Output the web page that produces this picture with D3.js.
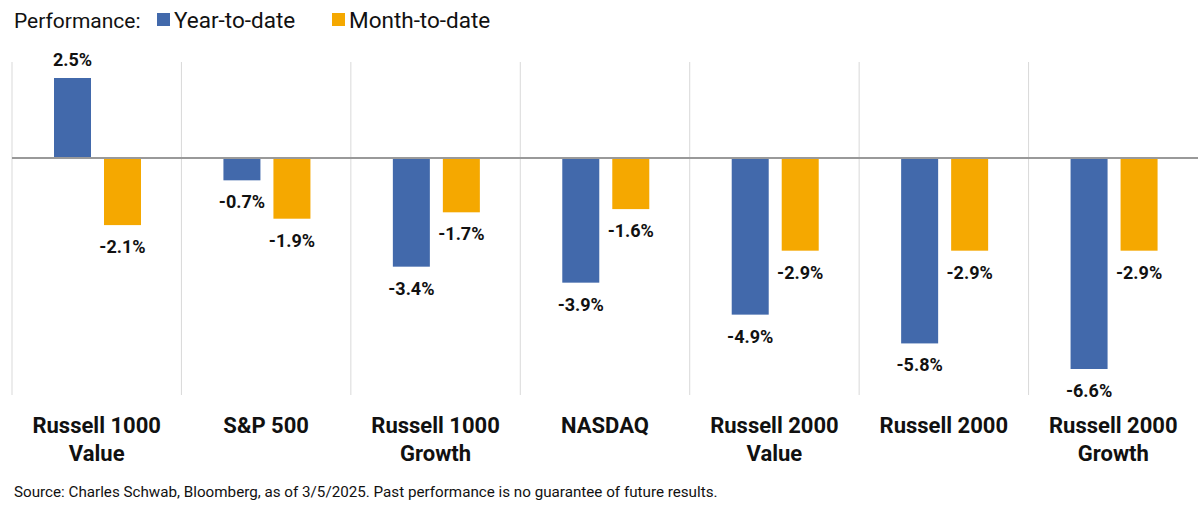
<!DOCTYPE html>
<html lang="en">
  <head>
    <meta charset="utf-8">
    <title>Performance</title>
    <script src="https://cdn.jsdelivr.net/npm/d3@7"></script>
    <style>
      body { margin: 0; background: #fff; }
      text { font-family: Roboto, "Liberation Sans", sans-serif; fill: #111; }
    </style>
  </head>
  <body>
    <script>

       var categories = ["Russell 1000|Value", "S&P 500", "Russell 1000|Growth", "NASDAQ",
                         "Russell 2000|Value", "Russell 2000", "Russell 2000|Growth"]
       var ytd = [2.5, -0.7, -3.4, -3.9, -4.9, -5.8, -6.6]
       var mtd = [-2.1, -1.9, -1.7, -1.6, -2.9, -2.9, -2.9]
       var seriesNames = ["Year-to-date", "Month-to-date"]
       var colors = ["#4269ab", "#f5a800"]

       var svg = d3.select("body").append("svg")
                   .attr("width", 1200)
                   .attr("height", 509);

       var x = d3.scaleBand().domain(d3.range(categories.length)).range([12, 1198]);
       var inner = d3.scaleBand().domain([0, 1]).range([42, 129]).paddingInner(0.26);
       var y = d3.scaleLinear().domain([-6.6, 2.5]).range([369, 78]);

       // legend
       svg.append("text").attr("x", 14).attr("y", 28).style("font-size", "21px").text("Performance:");
       var lx = [157, 332];
       seriesNames.forEach(function(n, i) {
         svg.append("rect").attr("x", lx[i]).attr("y", 13).attr("width", 13).attr("height", 13).style("fill", colors[i]);
         svg.append("text").attr("x", lx[i] + 17).attr("y", 28).style("font-size", "22.5px").text(n);
       });

       // dividers
       var divs = d3.range(categories.length);
       svg.selectAll("line.div").data(divs).enter().append("line")
          .attr("x1", function(d) { return x(d); }).attr("x2", function(d) { return x(d); })
          .attr("y1", 62).attr("y2", 395)
          .style("stroke", "#d9d9d9").style("stroke-width", 1);

       var groups = svg.selectAll("g.cat").data(categories).enter().append("g")
          .attr("transform", function(d, i) { return "translate(" + x(i) + ",0)"; });

       [ytd, mtd].forEach(function(series, s) {
         groups.append("rect")
           .attr("x", inner(s))
           .attr("width", inner.bandwidth())
           .attr("y", function(d, i) { return y(Math.max(0, series[i])); })
           .attr("height", function(d, i) { return Math.abs(y(series[i]) - y(0)); })
           .style("fill", colors[s]);
         groups.append("text")
           .attr("x", inner(s) + inner.bandwidth() / 2)
           .attr("y", function(d, i) { return series[i] >= 0 ? y(series[i]) - 12 : y(series[i]) + 28; })
           .attr("text-anchor", "middle")
           .style("font-size", "18px").style("font-weight", "bold")
           .text(function(d, i) { return series[i].toFixed(1) + "%"; });
       });

       groups.each(function(d) {
         var lines = d.split("|");
         var t = d3.select(this).append("text").attr("text-anchor", "middle")
           .style("font-size", "22px").style("font-weight", "bold");
         lines.forEach(function(l, j) {
           t.append("tspan").attr("x", x.bandwidth() / 2).attr("y", 433 + j * 28).text(l);
         });
       });

       svg.append("line").attr("x1", 12).attr("x2", 1198).attr("y1", y(0)).attr("y2", y(0))
          .style("stroke", "#999").style("stroke-width", 2);

       svg.append("text").attr("x", 14).attr("y", 497).style("font-size", "15.2px")
          .text("Source: Charles Schwab, Bloomberg, as of 3/5/2025.  Past performance is no guarantee of future results.");

    </script>
  </body>
</html>
